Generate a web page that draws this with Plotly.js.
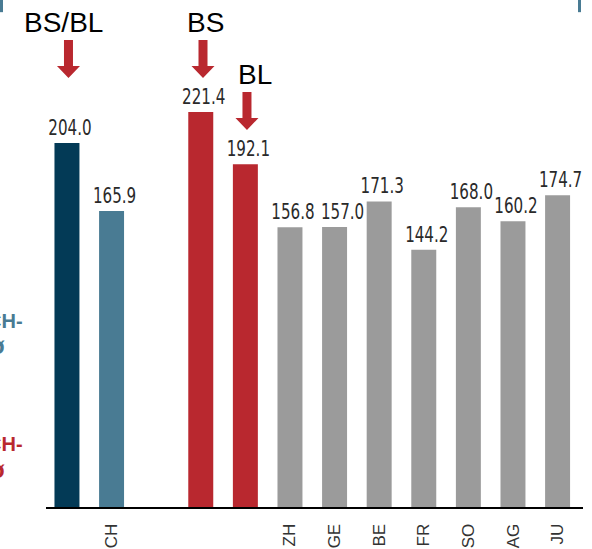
<!DOCTYPE html>
<html>
<head>
<meta charset="utf-8">
<script src="https://cdn.plot.ly/plotly-3.0.1.min.js"></script>
<style>
  html, body { margin: 0; padding: 0; background: #ffffff; }
  #chart { width: 592px; height: 549px; }
</style>
</head>
<body>
<div id="chart"></div>
<script>
// Slot keys (one per column, the third one is an empty spacer)
const keys = ['BS/BL', 'CH', 'gap', 'BS', 'BL', 'ZH', 'GE', 'BE', 'FR', 'SO', 'AG', 'JU'];
// Labels printed under the axis
const tickLabels = ['', 'CH', '', '', '', 'ZH', 'GE', 'BE', 'FR', 'SO', 'AG', 'JU'];
// Values per column
const values = [204.0, 165.9, null, 221.4, 192.1, 156.8, 157.0, 171.3, 144.2, 168.0, 160.2, 174.7];
// Bar colours per column
const barColors = ['#033a56', '#497b93', '#ffffff', '#b9282f', '#b9282f',
                   '#9b9b9b', '#9b9b9b', '#9b9b9b', '#9b9b9b', '#9b9b9b', '#9b9b9b', '#9b9b9b'];

const xIdx = keys.map((k, i) => i);

const RED = '#b9282f';
const TEAL = '#497b93';
const NARROW = '"DejaVu Sans Condensed", "Liberation Sans Narrow", sans-serif';
const SANS = '"Liberation Sans", Arial, sans-serif';

const trace = {
  type: 'bar',
  x: xIdx,
  y: values,
  marker: { color: barColors },
  text: values.map(v => (v == null ? '' : v.toFixed(1))),
  textposition: 'outside',
  constraintext: 'none',
  cliponaxis: false,
  textfont: { family: NARROW, size: 21, color: '#2a2a2a' },
  hoverinfo: 'skip'
};

// Block arrow pointing down, tip at the anchor point (pixels, up is positive)
const arrowPath = 'M0,0 L-11.5,12 L-4.5,12 L-4.5,38 L4.5,38 L4.5,12 L11.5,12 Z';
function arrow(xPos, yPaper) {
  return {
    type: 'path', xref: 'x', yref: 'paper',
    xsizemode: 'pixel', ysizemode: 'pixel',
    xanchor: xPos, yanchor: yPaper,
    path: arrowPath,
    fillcolor: RED, line: { width: 0 }
  };
}

// Side caption (two lines, partly outside the page on the left)
function sideCaption(color, yTop, yBottom) {
  return [
    { text: '<b>CH-</b>', xref: 'paper', yref: 'paper', x: -0.0391, y: yTop,
      xanchor: 'right', yanchor: 'middle', showarrow: false,
      font: { family: SANS, size: 20, color: color } },
    { text: '<b>ø</b>', xref: 'paper', yref: 'paper', x: -0.0895, y: yBottom,
      xanchor: 'center', yanchor: 'middle', showarrow: false,
      font: { family: SANS, size: 24, color: color } }
  ];
}

const layout = {
  width: 592,
  height: 549,
  margin: { l: 46, r: 9, t: 0, b: 42 },
  paper_bgcolor: '#ffffff',
  plot_bgcolor: '#ffffff',
  showlegend: false,
  bargap: 0.44,
  xaxis: {
    range: [-0.47, 11.57],
    tickmode: 'array',
    tickvals: xIdx,
    ticktext: tickLabels,
    tickangle: -90,
    tickfont: { family: SANS, size: 17, color: '#333333' },
    ticks: 'outside',
    ticklen: 8,
    tickcolor: 'rgba(0,0,0,0)',
    showline: true,
    linecolor: '#000000',
    linewidth: 2,
    showgrid: false,
    zeroline: false,
    fixedrange: true
  },
  yaxis: {
    range: [0, 284.2],
    visible: false,
    showgrid: false,
    zeroline: false,
    fixedrange: true
  },
  shapes: [
    arrow(0.034, 0.846),
    arrow(3.05, 0.846),
    arrow(4.036, 0.7436),
    { type: 'line', xref: 'paper', yref: 'paper', x0: -0.0829, x1: -0.0829, y0: 0.976, y1: 1,
      line: { color: TEAL, width: 3 } },
    { type: 'line', xref: 'paper', yref: 'paper', x0: 0.9935, x1: 0.9935, y0: 0.976, y1: 1,
      line: { color: TEAL, width: 3 } }
  ],
  annotations: [
    { text: 'BS/BL', xref: 'x', yref: 'paper', x: -0.078, y: 0.955, xanchor: 'center', yanchor: 'middle',
      showarrow: false, font: { family: SANS, size: 28, color: '#000000' } },
    { text: 'BS', xref: 'x', yref: 'paper', x: 3.105, y: 0.955, xanchor: 'center', yanchor: 'middle',
      showarrow: false, font: { family: SANS, size: 28, color: '#000000' } },
    { text: 'BL', xref: 'x', yref: 'paper', x: 4.215, y: 0.854, xanchor: 'center', yanchor: 'middle',
      showarrow: false, font: { family: SANS, size: 28, color: '#000000' } }
  ].concat(sideCaption(TEAL, 0.3669, 0.3176), sideCaption(RED, 0.1243, 0.073))
};

Plotly.newPlot('chart', [trace], layout, { staticPlot: true, displayModeBar: false })
  .then(gd => {
    // Squeeze the value labels horizontally for a narrow, condensed look,
    // nudge them a little to the right, and give GE's label some room from ZH's
    gd.querySelectorAll('text.bartext').forEach(t => {
      const w = t.getComputedTextLength();
      if (w > 0) {
        t.setAttribute('lengthAdjust', 'spacingAndGlyphs');
        t.setAttribute('textLength', (w * 0.8).toFixed(1));
        const shift = t.textContent === '157.0' ? 8 : 3;
        t.setAttribute('transform', 'translate(' + shift + ',0) ' + (t.getAttribute('transform') || ''));
      }
    });
  });
</script>
</body>
</html>
